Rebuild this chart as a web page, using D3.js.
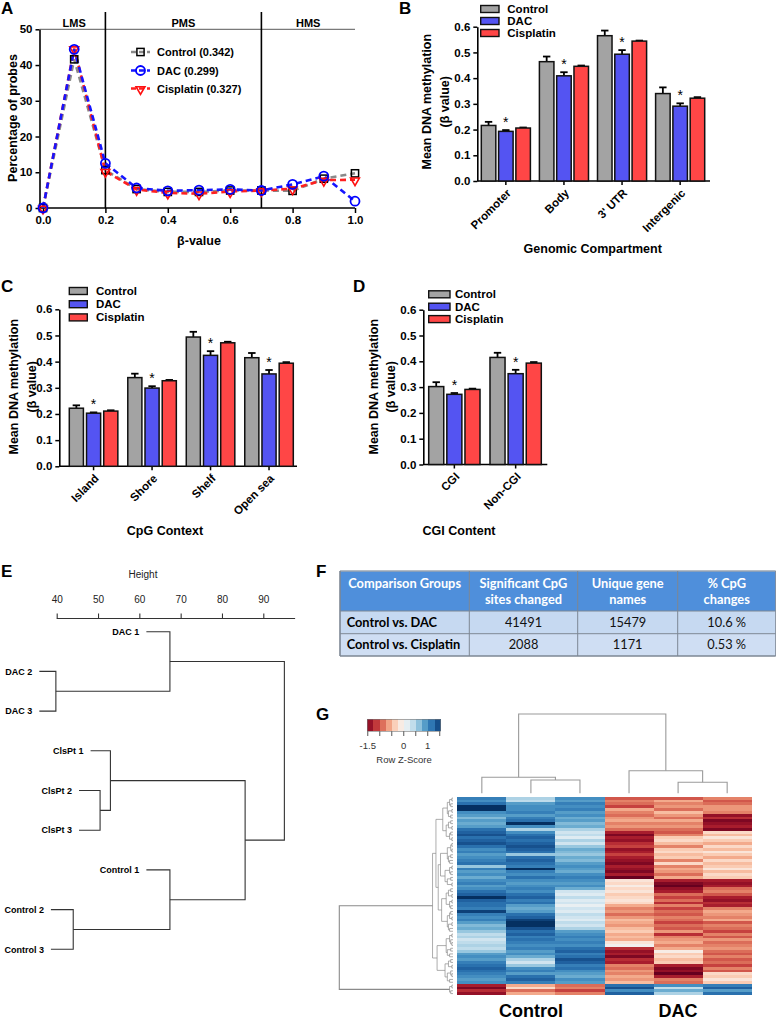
<!DOCTYPE html>
<html><head><meta charset="utf-8">
<script src="https://cdn.jsdelivr.net/npm/d3@7"></script>
<style>
body{margin:0;background:#fff;}
svg{display:block;font-family:"Liberation Sans",Arial,sans-serif;}
</style></head><body>
<svg id="chart" width="776" height="1021"></svg>
<script>
// ================= DATA =================
// Panel A
const aX = [0,0.1,0.2,0.3,0.4,0.5,0.6,0.7,0.8,0.9,1.0];
const aControl = [0,41.6,10.6,5.3,4.5,4.5,4.9,4.9,4.8,8.2,9.7];
const aDAC     = [0,44.4,12.5,5.6,4.8,5.0,5.2,4.9,6.6,8.9,1.9];
const aCis     = [0,44.6,10.3,5.2,4.2,4.0,4.6,4.9,5.4,7.8,7.9];
const aSeriesNames = ["Control (0.342)","DAC (0.299)","Cisplatin (0.327)"];
const aRegions = ["LMS","PMS","HMS"];
const aRegionBreaks = [0,0.2,0.7,1.0];
const aXTicks = [0,0.2,0.4,0.6,0.8,1.0];
const aYTicks = [0,10,20,30,40,50];

// Bar panels
const groups = ["Control","DAC","Cisplatin"];
const methTicks = [0,0.1,0.2,0.3,0.4,0.5,0.6];
const bCats = ["Promoter","Body","3' UTR","Intergenic"];
const bControl = [0.216,0.464,0.565,0.340];
const bControlErr = [0.014,0.020,0.020,0.024];
const bDAC = [0.193,0.409,0.493,0.291];
const bDACErr = [0.005,0.014,0.016,0.011];
const bCis = [0.206,0.446,0.544,0.322];
const bCisErr = [0.002,0.003,0.002,0.004];

const cCats = ["Island","Shore","Shelf","Open sea"];
const cControl = [0.222,0.339,0.494,0.415];
const cControlErr = [0.011,0.015,0.020,0.018];
const cDAC = [0.203,0.299,0.424,0.353];
const cDACErr = [0.003,0.007,0.016,0.015];
const cCis = [0.211,0.327,0.472,0.394];
const cCisErr = [0.003,0.003,0.004,0.004];

const dCats = ["CGI","Non-CGI"];
const dControl = [0.302,0.415];
const dControlErr = [0.017,0.018];
const dDAC = [0.272,0.352];
const dDACErr = [0.005,0.015];
const dCis = [0.291,0.393];
const dCisErr = [0.003,0.004];

// Panel E dendrogram
const eLeaves = ["DAC 1","DAC 2","DAC 3","ClsPt 1","ClsPt 2","ClsPt 3","Control 1","Control 2","Control 3"];
const eLeafStart = [61.7,35.8,35.8,48.2,45.4,45.4,61.7,38.6,38.6];
// hclust-style merges: negative = leaf (1-based), positive = earlier merge (1-based), height
const eMerges = [[-2,-3,39.8],[-1,1,67.4],[-5,-6,50.5],[-4,3,53.0],[-8,-9,44.0],[-7,5,67.4],[4,6,85.6],[2,7,95.1]];
const eTicks = [40,50,60,70,80,90];

// Panel F table
const fHeader = [["Comparison Groups"],["Significant CpG","sites changed"],["Unique gene","names"],["% CpG","changes"]];
const fRows = [["Control vs. DAC","41491","15479","10.6 %"],["Control vs. Cisplatin","2088","1171","0.53 %"]];

// Panel G heatmap (row z-scores), columns Control 1-3, DAC 1-3
const hmSamples = ["Control 1","Control 2","Control 3","DAC 1","DAC 2","DAC 3"];
const hmC1 = [1.1,1.0,1.2,1.6,1.7,1.0,0.9,0.7,0.9,0.8, 0.9,1.2,1.3,1.4,1.2,1.3,1.4,1.2,1.0,1.1, 0.9,1.0,1.1,1.2,0.6,1.1,0.9,1.0,0.8,1.0, 1.1,0.9,1.0,1.2,1.3,1.6,1.3,1.2,1.2,1.1, 1.5,1.1,1.0,1.1,0.9,0.7,0.8,0.6,0.4,0.5, 0.3,0.4,0.5,0.4,0.6,0.9,1.0,0.9,1.1,1.2, 1.3,1.2,1.1,1.0,0.9,1.0, -1.3,-1.5,-1.2,-1.4];
const hmC2 = [0.5,0.4,0.9,1.0,1.0,1.1,0.9,1.1,1.2,1.6, 1.0,0.5,1.0,1.2,1.3,1.2,1.3,1.4,1.3,1.2, 0.6,1.2,1.3,1.2,1.1,1.6,1.1,1.0,1.2,1.0, 0.9,1.0,1.1,1.0,1.2,1.3,1.1,1.2,0.9,0.8, 0.9,1.2,1.3,1.5,1.6,1.7,1.4,1.2,1.3,1.1, 1.2,1.1,1.0,1.1,0.9,1.0,0.8,0.5,0.3,0.6, 1.0,1.1,0.9,1.2,1.3,1.1, -0.6,-0.3,-0.9,-0.6];
const hmC3 = [1.0,0.9,1.1,1.0,1.1,0.9,1.0,0.8,0.9,0.7, 0.8,0.5,0.3,0.4,0.2,0.5,0.3,0.6,0.8,0.7, 0.6,0.8,0.7,0.9,1.0,0.9,0.8,1.0,1.1,1.0, 0.9,1.0,0.8,0.3,0.2,0.4,0.2,0.3,0.1,0.3, 0.2,0.4,0.3,0.2,0.4,0.3,0.5,0.9,1.0,1.1, 1.0,1.1,1.0,1.2,1.3,1.1,1.2,1.4,1.3,1.1, 1.2,1.0,0.9,0.8,1.0,0.9, -0.9,-0.8,-1.1,-0.8];
const hmD1 = [-1.0,-0.8,-0.9,-1.1,-0.6,-0.8,-0.9,-0.7,-0.6,-0.8, -0.7,-0.9,-1.3,-1.5,-1.3,-1.4,-1.2,-1.1,-1.4,-1.3, -1.1,-1.3,-1.4,-1.5,-1.3,-1.4,-1.5,-1.3,-1.7,-0.2, -0.3,-0.1,-0.3,-0.2,-0.4,-0.3,-0.2,-0.3,-0.6,-0.8, -0.7,-0.9,-0.7,-0.5,-0.6,-0.7,-0.5,-0.4,-0.6,-0.5, -0.6,-0.2,0.0,-1.2,-1.4,-1.3,-1.5,-1.2,-1.3,-0.8, -0.9,-0.7,-0.8,-0.6,-0.7,-0.5, 1.2,1.4,1.0,1.3];
const hmD2 = [-1.0,-0.6,-0.8,-0.7,-0.9,-0.5,-0.7,-0.9,-0.6,-0.8, -0.7,-0.9,-1.0,-0.8,-0.4,-0.3,-0.5,-0.8,-0.4,-0.3, -0.5,-0.4,-0.8,-0.3,-0.8,-0.6,-0.7,-0.9,-0.6,-1.3, -1.5,-1.6,-1.4,-1.3,-0.9,-1.1,-0.9,-1.2,-0.8,-1.1, -0.9,-1.0,-0.8,-0.9,-1.1,-0.9,-1.0,-0.7,-1.2,-0.8, -0.7,-0.6,-0.8,-0.6,-0.1,-0.4,-0.3,-0.5,-0.4,-1.3, -1.5,-1.4,-1.6,-1.3,-0.8,-0.9, 1.0,0.4,0.8,0.5];
const hmD3 = [-0.8,-1.0,-0.9,-0.7,-0.7,-0.8,-1.4,-1.2,-1.5,-1.4, -1.3,-1.5,-0.3,-0.5,-0.2,-0.4,-0.6,-0.3,-0.5,-0.2, -0.4,-0.6,-0.3,-0.5,-0.4,-0.2,-0.5,-0.3,-0.4,-1.3, -1.4,-1.3,-0.9,-0.8,-1.0,-1.3,-1.4,-1.2,-1.3,-0.8, -0.6,-0.7,-0.8,-0.6,-1.0,-0.8,-0.9,-1.1,-0.8,-1.0, -0.7,-0.9,-0.8,-0.7,-0.9,-1.0,-0.8,-1.0,-0.9,-1.1, -0.8,-1.0,-0.3,-0.4,-0.2,-0.4, 1.1,1.3,0.9,1.2];
const hmCols = [hmC1,hmC2,hmC3,hmD1,hmD2,hmD3];
const hmColMerges = [[-2,-3,6.4],[-1,1,7.7],[-5,-6,5.3],[-4,3,10.8],[2,4,38]];
// row dendrogram: [height, left, right], leaves = row index
const g0=[5,[3,[1,0,1],[2,2,3]],[4,[1,4,5],[2,6,7]]];
const g1=[6,[4,[2,8,9],[1,10,11]],[3,[2,12,13],[1,14,15]]];
const g2=[5,[2,[1,16,17],[1,18,19]],[4,[2,20,21],[3,22,23]]];
const g3=[7,[3,[1,24,25],[2,26,27]],[5,[2,28,29],[1,30,31]]];
const g4=[6,[4,[2,32,33],[1,34,35]],[3,[1,36,37],[2,38,39]]];
const g5=[5,[3,[2,40,41],[1,42,43]],[4,[1,44,45],[3,46,47]]];
const g6=[6,[3,[1,48,49],[2,50,[1,51,52]]],[5,[2,53,54],[3,55,56]]];
const g7=[7,[4,[2,57,58],[1,59,60]],[5,[2,61,[1,62,63]],[3,64,65]]];
const hmRowTree = [100,[18,[15,[9,g0,g1],[13,[11,g2,g3],[10,g4,g5]]],[14,g6,g7]],[3,[1,66,67],[2,68,69]]];
const keyTicks = [-1.5,-1,-0.5,0,0.5,1,1.5];
const keyLabels = [-1.5,0,1];

// ================= DRAW =================
const svg = d3.select("#chart");
svg.append("rect").attr("width",776).attr("height",1021).attr("fill","#fff");
const seriesColor = {Control:"#a3a3a3", DAC:"#5454f2", Cisplatin:"#ff4646"};

function txt(g,x,y,s,o={}){
  const t=g.append("text").attr("x",x).attr("y",y).text(s)
    .attr("font-size",o.size||11).attr("font-weight",o.weight||"bold")
    .attr("text-anchor",o.anchor||"start").attr("fill",o.fill||"#000");
  if(o.family) t.attr("font-family",o.family);
  if(o.dy) t.attr("dy",o.dy);
  if(o.rotate!==undefined) t.attr("transform",`rotate(${o.rotate},${x},${y})`);
  return t;
}
function styleAxis(g,fs,weight){
  g.selectAll("text").attr("font-size",fs).attr("font-weight",weight||"bold").attr("fill","#000").attr("font-family","'Liberation Sans',Arial,sans-serif");
  g.selectAll(".tick line").attr("stroke","#000").attr("stroke-width",1.5);
  g.selectAll(".domain").attr("stroke","#000").attr("stroke-width",1.6);
}
function panelLabel(t,x,y){ txt(svg,x,y,t,{size:17}); }

// ---------- Panel A ----------
(function(){
  const g=svg.append("g");
  const ax=d3.scaleLinear().domain([0,1]).range([43,355]);
  const ay=d3.scaleLinear().domain([0,50]).range([208,29.3]);
  const left=39.5;
  g.append("line").attr("x1",left).attr("x2",ax(1)).attr("y1",ay(50)).attr("y2",ay(50)).attr("stroke","#7a7a7a").attr("stroke-width",1.2);
  aRegionBreaks.slice(1,-1).forEach(v=>g.append("line").attr("x1",ax(v)).attr("x2",ax(v)).attr("y1",12).attr("y2",ay(0)).attr("stroke","#000").attr("stroke-width",1.6));
  aRegions.forEach((r,i)=>txt(g,(ax(aRegionBreaks[i])+ax(aRegionBreaks[i+1]))/2,27,r,{anchor:"middle",size:11}));
  const gy=g.append("g").attr("transform",`translate(${left},0)`).call(d3.axisLeft(ay).tickValues(aYTicks).tickSize(4).tickSizeOuter(0).tickPadding(3));
  styleAxis(gy,11.5);
  const gx=g.append("g").attr("transform",`translate(0,${ay(0)})`).call(d3.axisBottom(ax).tickValues(aXTicks).tickFormat(d3.format(".1f")).tickSize(5).tickPadding(3));
  gx.select(".domain").remove();
  styleAxis(gx,11.5);
  g.append("line").attr("x1",left).attr("x2",ax(1)).attr("y1",ay(0)).attr("y2",ay(0)).attr("stroke","#000").attr("stroke-width",1.6);
  txt(g,ax(0.5),245,"β-value",{anchor:"middle",size:12.5});
  txt(g,0,0,"Percentage of probes",{anchor:"middle",size:12.5}).attr("transform",`translate(17,118) rotate(-90)`);
  const line=d3.line().x((d,i)=>ax(aX[i])).y(d=>ay(d));
  const specs=[
    {vals:aControl,col:"#8a8a8a",mk:"square",mcol:"#000"},
    {vals:aCis,col:"#ff2020",mk:"tri",mcol:"#ff1010"},
    {vals:aDAC,col:"#1515ff",mk:"circle",mcol:"#0000ff"}];
  function marker(gg,type,x,y,c){
    if(type==="square") gg.append("rect").attr("x",x-3.6).attr("y",y-3.6).attr("width",7.2).attr("height",7.2).attr("fill","none").attr("stroke",c).attr("stroke-width",1.5);
    else if(type==="circle") gg.append("circle").attr("cx",x).attr("cy",y).attr("r",4.5).attr("fill","none").attr("stroke",c).attr("stroke-width",1.8);
    else gg.append("path").attr("d",d3.symbol().type(d3.symbolTriangle).size(34)()).attr("transform",`translate(${x},${y+0.8}) rotate(180)`).attr("fill","none").attr("stroke",c).attr("stroke-width",1.6);
  }
  specs.forEach(s=>{
    g.append("path").attr("d",line(s.vals)).attr("fill","none").attr("stroke",s.col).attr("stroke-width",2.6).attr("stroke-dasharray","6,4");
  });
  specs.forEach(s=>s.vals.forEach((v,i)=>marker(g,s.mk,ax(aX[i]),ay(v),s.mcol)));
  // legend
  const legOrder=[specs[0],specs[2],specs[1]];
  const legY=[52,70.5,88.5];
  legOrder.forEach((s,i)=>{
    g.append("line").attr("x1",131).attr("x2",150).attr("y1",legY[i]).attr("y2",legY[i]).attr("stroke",s.col).attr("stroke-width",2.6).attr("stroke-dasharray","5,3");
    marker(g,s.mk,140.5,legY[i],s.mcol);
    txt(g,157,legY[i]+4,aSeriesNames[i],{size:11});
  });
  panelLabel("A",1,14);
})();

// ---------- Bar panels ----------
function barPanel(c){
  const g=svg.append("g");
  const y=d3.scaleLinear().domain([0,0.6]).range([c.y0,c.y6]);
  const xb=d3.scaleBand().domain(c.cats).range(c.barRange).paddingInner(c.padIn).paddingOuter(0);
  const xs=d3.scaleBand().domain(groups).range([0,xb.bandwidth()]).paddingInner(c.subPad);
  const ya=g.append("g").attr("transform",`translate(${c.axisX},0)`).call(d3.axisLeft(y).tickValues(methTicks).tickFormat(d3.format(".1f")).tickSize(4).tickSizeOuter(0).tickPadding(3));
  styleAxis(ya,11.5);
  g.append("line").attr("x1",c.axisX).attr("x2",c.axisEnd).attr("y1",y(0)).attr("y2",y(0)).attr("stroke","#000").attr("stroke-width",1.6);
  c.cats.forEach(cat=>{
    const cx=xb(cat)+xb.bandwidth()/2;
    g.append("line").attr("x1",cx).attr("x2",cx).attr("y1",y(0)).attr("y2",y(0)+4).attr("stroke","#000").attr("stroke-width",1.5);
    txt(g,0,0,cat,{anchor:"end",size:11.5}).attr("transform",`translate(${cx+3},${y(0)+10}) rotate(-45)`).attr("dy","0.35em");
  });
  groups.forEach((s,si)=>{
    c.vals[si].forEach((v,i)=>{
      const x=xb(c.cats[i])+xs(s), w=xs.bandwidth();
      const cx=x+w/2, top=y(v+c.errs[si][i]);
      g.append("line").attr("x1",cx).attr("x2",cx).attr("y1",y(v)).attr("y2",top).attr("stroke","#000").attr("stroke-width",1.8);
      g.append("line").attr("x1",cx-3.7).attr("x2",cx+3.7).attr("y1",top).attr("y2",top).attr("stroke","#000").attr("stroke-width",1.8);
      g.append("rect").attr("x",x).attr("y",y(v)).attr("width",w).attr("height",y(0)-y(v)).attr("fill",seriesColor[s]).attr("stroke","#111").attr("stroke-width",1.5);
      if(s==="DAC") txt(g,cx,top-3,"*",{anchor:"middle",size:14,weight:"normal"});
    });
  });
  groups.forEach((s,i)=>{
    const ly=c.leg.y0+i*c.leg.dy;
    g.append("rect").attr("x",c.leg.x).attr("y",ly-3.5).attr("width",c.leg.w).attr("height",7).attr("fill",seriesColor[s]).attr("stroke","#111").attr("stroke-width",1.4);
    txt(g,c.leg.tx,ly+4,s,{size:11.5});
  });
  txt(g,0,0,"Mean DNA methylation",{anchor:"middle",size:12.5}).attr("transform",`translate(${c.t1x},${c.tcy}) rotate(-90)`).attr("dy","0.35em");
  txt(g,0,0,"(β value)",{anchor:"middle",size:12.5}).attr("transform",`translate(${c.t2x},${c.tcy}) rotate(-90)`).attr("dy","0.35em");
  txt(g,c.xtX,c.xtY,c.xTitle,{anchor:"middle",size:12.5});
}
barPanel({cats:bCats,vals:[bControl,bDAC,bCis],errs:[bControlErr,bDACErr,bCisErr],y0:181,y6:26.7,barRange:[481.3,704.7],padIn:0.155,subPad:0.16,axisX:477.3,axisEnd:710,
  leg:{x:480.7,w:18.3,tx:507.3,y0:9,dy:12},t1x:426.7,t2x:444.5,tcy:101.7,xtX:592.7,xtY:253,xTitle:"Genomic Compartment"});
barPanel({cats:cCats,vals:[cControl,cDAC,cCis],errs:[cControlErr,cDACErr,cCisErr],y0:466.3,y6:309.3,barRange:[69.3,293.3],padIn:0.17,subPad:0.18,axisX:59.3,axisEnd:297,
  leg:{x:69.3,w:18,tx:96,y0:291,dy:13.2},t1x:14,t2x:31.7,tcy:386.7,xtX:165,xtY:535,xTitle:"CpG Context"});
barPanel({cats:dCats,vals:[dControl,dDAC,dCis],errs:[dControlErr,dDACErr,dCisErr],y0:464.5,y6:309.7,barRange:[428.7,541.3],padIn:0.163,subPad:0.17,axisX:423.3,axisEnd:547.3,
  leg:{x:428.7,w:21.3,tx:455,y0:294.3,dy:12.4},t1x:373.3,t2x:391,tcy:386.7,xtX:459,xtY:535,xTitle:"CGI Content"});
panelLabel("B",399,14);
panelLabel("C",1,292);
panelLabel("D",353,292);

// ---------- Panel E ----------
(function(){
  const g=svg.append("g");
  const ex=d3.scaleLinear().domain([40,90]).range([56.7,263.3]);
  const ey=d3.scalePoint().domain(eLeaves).range([631.7,949.3]);
  const axisY=618.5;
  const ga=g.append("g").attr("transform",`translate(0,${axisY})`).call(d3.axisTop(ex).tickValues(eTicks).tickSize(5).tickPadding(11));
  ga.select(".domain").remove();
  ga.selectAll("text").attr("font-size",10).attr("fill","#222");
  ga.selectAll(".tick line").attr("stroke","#333").attr("stroke-width",1.1);
  g.append("line").attr("x1",ex(40)).attr("x2",ex(97.7)).attr("y1",axisY).attr("y2",axisY).attr("stroke","#333").attr("stroke-width",1.1);
  txt(g,143,578,"Height",{anchor:"middle",size:10,weight:"normal",fill:"#222"});
  const nodes=[];
  function pos(idx){ return idx<0 ? {x:ex(eLeafStart[-idx-1]),y:ey(eLeaves[-idx-1])} : nodes[idx-1]; }
  eMerges.forEach(m=>{
    const a=pos(m[0]), b=pos(m[1]), hx=ex(m[2]);
    g.append("path").attr("d",`M${a.x},${a.y}H${hx}V${b.y}H${b.x}`).attr("fill","none").attr("stroke","#333").attr("stroke-width",1.1);
    nodes.push({x:hx,y:(a.y+b.y)/2});
  });
  eLeaves.forEach((n,i)=>txt(g,ex(eLeafStart[i])-7,ey(n)+3.2,n,{anchor:"end",size:9}));
  panelLabel("E",1,577);
})();

// ---------- Panel F ----------
(function(){
  const g=svg.append("g");
  const colEdges=[340,469.3,577.7,677.7,775.7];
  const rowEdges=[571,611,633.7,656];
  const fam="Lato,'Open Sans',sans-serif";
  g.append("rect").attr("x",colEdges[0]).attr("y",rowEdges[0]).attr("width",colEdges[4]-colEdges[0]).attr("height",rowEdges[1]-rowEdges[0]).attr("fill","#4f8fdb");
  fRows.forEach((r,i)=>g.append("rect").attr("x",colEdges[0]).attr("y",rowEdges[i+1]).attr("width",colEdges[4]-colEdges[0]).attr("height",rowEdges[i+2]-rowEdges[i+1]).attr("fill",i===0?"#c6d9f1":"#cfdef3"));
  rowEdges.forEach((y,i)=>g.append("line").attr("x1",colEdges[0]).attr("x2",colEdges[4]).attr("y1",y).attr("y2",y).attr("stroke",i===0?"#9aa4b0":"#7d8794").attr("stroke-width",i===0||i===3?1.6:1));
  colEdges.forEach((x,i)=>g.append("line").attr("x1",x).attr("x2",x).attr("y1",rowEdges[0]).attr("y2",rowEdges[3]).attr("stroke","#7d8794").attr("stroke-width",i===0?1.6:1));
  fHeader.forEach((lines,ci)=>{
    const cx=(colEdges[ci]+colEdges[ci+1])/2;
    lines.forEach((l,li)=>txt(g,cx,587.5+li*16.7,l,{anchor:"middle",size:12.8,fill:"#fff",family:fam}));
  });
  fRows.forEach((r,ri)=>{
    const by=(rowEdges[ri+1]+rowEdges[ri+2])/2+4.5;
    r.forEach((v,ci)=>{
      if(ci===0) txt(g,colEdges[0]+6.7,by,v,{size:12.8,family:fam});
      else txt(g,(colEdges[ci]+colEdges[ci+1])/2,by,v,{anchor:"middle",size:12.8,weight:"normal",family:fam,fill:"#111"});
    });
  });
  panelLabel("F",316,577);
})();

// ---------- Panel G ----------
(function(){
  const g=svg.append("g");
  const nRows=hmC1.length;
  const hx=d3.scaleBand().domain(hmSamples).range([457.3,751.7]);
  const hy=d3.scaleBand().domain(d3.range(nRows)).range([796.7,995]);
  const color=z=>d3.interpolateRdBu(Math.max(0,Math.min(1,(z+1.6)/3.2)));
  hmCols.forEach((col,ci)=>col.forEach((z,ri)=>{
    g.append("rect").attr("x",hx(hmSamples[ci])).attr("y",hy(ri)).attr("width",hx.bandwidth()+0.3).attr("height",hy.bandwidth()+0.3).attr("fill",color(z)).attr("shape-rendering","crispEdges");
  }));
  // column dendrogram
  const cy=d3.scaleLinear().domain([0,38]).range([793.3,714]);
  const cn=[];
  const cpos=i=>i<0?{x:hx(hmSamples[-i-1])+hx.bandwidth()/2,y:cy(0)}:cn[i-1];
  hmColMerges.forEach(m=>{
    const a=cpos(m[0]),b=cpos(m[1]),yy=cy(m[2]);
    g.append("path").attr("d",`M${a.x},${a.y}V${yy}H${b.x}V${b.y}`).attr("fill","none").attr("stroke","#9a9a9a").attr("stroke-width",1.1);
    cn.push({x:(a.x+b.x)/2,y:yy});
  });
  // row dendrogram
  const rx=d3.scaleLinear().domain([0,100]).range([453,339.3]);
  function rlay(node){
    if(typeof node==="number") return {x:rx(0),y:hy(node)+hy.bandwidth()/2};
    const a=rlay(node[1]),b=rlay(node[2]),xx=rx(node[0]);
    g.append("path").attr("d",`M${a.x},${a.y}H${xx}V${b.y}H${b.x}`).attr("fill","none").attr("stroke","#8a8a8a").attr("stroke-width",node[0]>=100?1.1:0.7);
    return {x:xx,y:(a.y+b.y)/2};
  }
  rlay(hmRowTree);
  // color key
  const kx=d3.scaleLinear().domain([-1.52,1.54]).range([367.3,440.7]);
  const nb=12, kd=kx.domain(), step=(kd[1]-kd[0])/nb;
  d3.range(nb).forEach(i=>{
    const z0=kd[0]+i*step;
    g.append("rect").attr("x",kx(z0)).attr("y",719.3).attr("width",kx(z0+step)-kx(z0)+0.3).attr("height",12).attr("fill",color(z0+step/2)).attr("shape-rendering","crispEdges");
  });
  g.append("rect").attr("x",kx(kd[0])).attr("y",719.3).attr("width",kx(kd[1])-kx(kd[0])).attr("height",12).attr("fill","none").attr("stroke","#777").attr("stroke-width",0.6);
  keyTicks.forEach(t=>g.append("line").attr("x1",kx(t)).attr("x2",kx(t)).attr("y1",731.3).attr("y2",736).attr("stroke","#444").attr("stroke-width",0.9));
  keyLabels.forEach(t=>txt(g,kx(t),748.5,String(t),{anchor:"middle",size:9.5,weight:"normal",fill:"#333"}));
  txt(g,404,762.5,"Row Z-Score",{anchor:"middle",size:9.5,weight:"normal",fill:"#333"});
  txt(g,(hx("Control 1")+hx("Control 3")+hx.bandwidth())/2,1017,"Control",{anchor:"middle",size:18});
  txt(g,(hx("DAC 1")+hx("DAC 3")+hx.bandwidth())/2,1017,"DAC",{anchor:"middle",size:18});
  panelLabel("G",316,720);
})();
</script></body></html>
